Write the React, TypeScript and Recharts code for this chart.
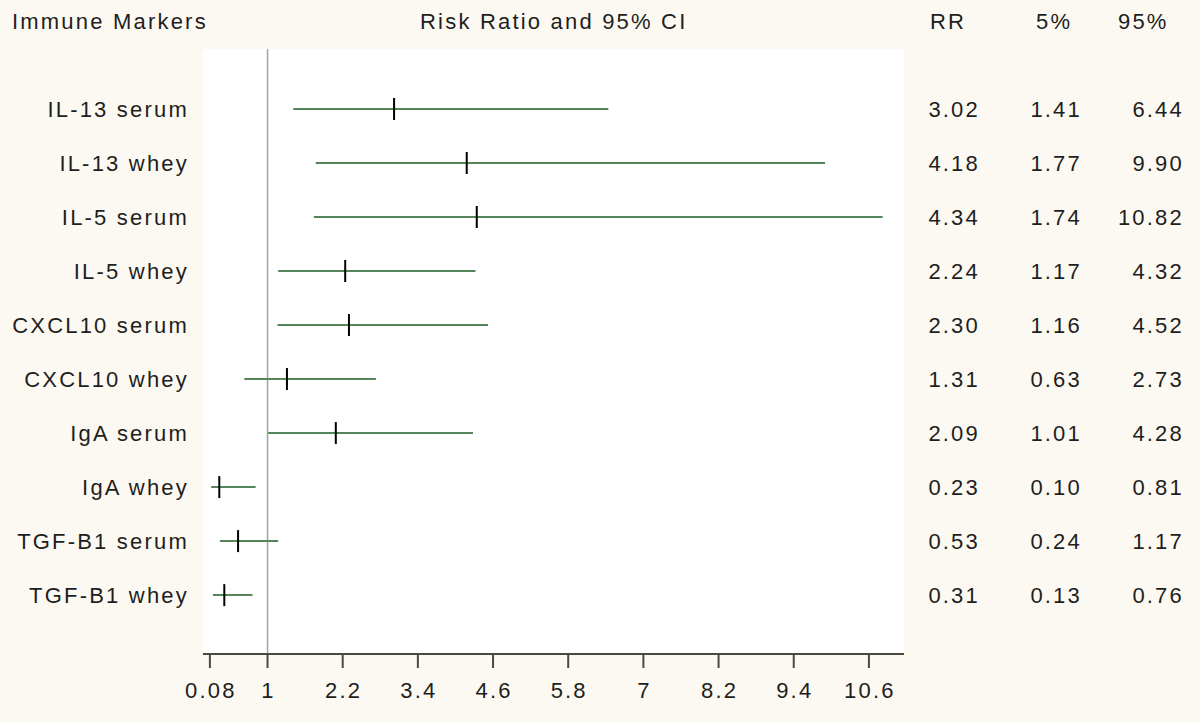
import {
  ScatterChart,
  Scatter,
  XAxis,
  YAxis,
  ErrorBar,
  ReferenceLine,
  ReferenceArea,
} from 'recharts';

const markers = [
  'IL-13 serum',
  'IL-13 whey',
  'IL-5 serum',
  'IL-5 whey',
  'CXCL10 serum',
  'CXCL10 whey',
  'IgA serum',
  'IgA whey',
  'TGF-B1 serum',
  'TGF-B1 whey',
];
const riskRatio = [3.02, 4.18, 4.34, 2.24, 2.3, 1.31, 2.09, 0.23, 0.53, 0.31];
const lower5 = [1.41, 1.77, 1.74, 1.17, 1.16, 0.63, 1.01, 0.1, 0.24, 0.13];
const upper95 = [6.44, 9.9, 10.82, 4.32, 4.52, 2.73, 4.28, 0.81, 1.17, 0.76];
const xTicks = [0.08, 1, 2.2, 3.4, 4.6, 5.8, 7, 8.2, 9.4, 10.6];

const BG = '#fcf9f2';
const TEXT = '#1e1e1e';
const FONT = '"Liberation Sans", Arial, sans-serif';
const SPACING = 2.2;

const rows = markers.map((name, i) => ({
  name,
  row: i + 1,
  rr: riskRatio[i],
  ci: [riskRatio[i] - lower5[i], upper95[i] - riskRatio[i]],
}));
const rowTicks = rows.map((r) => r.row);

// black vertical tick at the point estimate
const RRMark = (props: any) => {
  const { cx, cy } = props;
  return <line x1={cx} x2={cx} y1={cy - 11} y2={cy + 11} stroke="#000" strokeWidth={2} />;
};

// RR / 5% / 95% columns on the right
const TableTick = (props: any) => {
  const { x, y, payload } = props;
  const i = payload.value - 1;
  if (i < 0 || i >= rows.length) return null;
  const cols = [
    { dx: 76, v: riskRatio[i] },
    { dx: 178, v: lower5[i] },
    { dx: 280, v: upper95[i] },
  ];
  return (
    <g>
      {cols.map((c, k) => (
        <text key={k} x={x + c.dx} y={y} dy="0.35em" textAnchor="end" fontSize={22} fill={TEXT}>
          {c.v.toFixed(2)}
        </text>
      ))}
    </g>
  );
};

const header = (text: string, left: number) => (
  <div style={{ position: 'absolute', left, top: 9, fontSize: 22, color: TEXT, whiteSpace: 'nowrap' }}>{text}</div>
);

export default function App() {
  return (
    <div
      style={{
        position: 'absolute',
        left: 0,
        top: 0,
        width: 1200,
        height: 722,
        background: BG,
        fontFamily: FONT,
        letterSpacing: `${SPACING}px`,
      }}
    >
      {header('Immune Markers', 12)}
      {header('Risk Ratio and 95% CI', 420)}
      {header('RR', 930)}
      {header('5%', 1036)}
      {header('95%', 1118)}
      <ScatterChart width={1200} height={722} margin={{ top: 49, right: 0, bottom: 0, left: 0 }}>
        <XAxis
          type="number"
          dataKey="rr"
          domain={[-0.03, 11.16]}
          allowDataOverflow
          ticks={xTicks}
          interval={0}
          height={68}
          tickSize={14}
          tickMargin={14}
          axisLine={{ stroke: '#4b4840', strokeWidth: 2 }}
          tickLine={{ stroke: '#4b4840', strokeWidth: 2 }}
          tick={{ fontSize: 22, fill: TEXT, dx: 1 }}
        />
        <YAxis
          yAxisId="left"
          type="number"
          dataKey="row"
          domain={[-0.11, 11.09]}
          allowDataOverflow
          reversed
          ticks={rowTicks}
          interval={0}
          width={203}
          tickSize={0}
          tickMargin={14}
          axisLine={false}
          tickLine={false}
          tickFormatter={(v: number) => markers[v - 1] ?? ''}
          tick={{ fontSize: 22, fill: TEXT }}
        />
        <YAxis
          yAxisId="right"
          orientation="right"
          type="number"
          domain={[-0.11, 11.09]}
          allowDataOverflow
          reversed
          ticks={rowTicks}
          interval={0}
          width={296}
          tickSize={0}
          tickMargin={0}
          axisLine={false}
          tickLine={false}
          tick={<TableTick />}
        />
        <ReferenceArea
          yAxisId="left"
          x1={-0.03}
          x2={11.16}
          y1={-0.11}
          y2={11.09}
          fill="#ffffff"
          fillOpacity={1}
          stroke="none"
        />
        <ReferenceLine yAxisId="left" x={1} stroke="#a3a3a3" strokeWidth={1.5} />
        <Scatter yAxisId="left" data={rows} shape={<RRMark />} isAnimationActive={false}>
          <ErrorBar dataKey="ci" direction="x" width={0} stroke="#55855a" strokeWidth={2} />
        </Scatter>
      </ScatterChart>
    </div>
  );
}
